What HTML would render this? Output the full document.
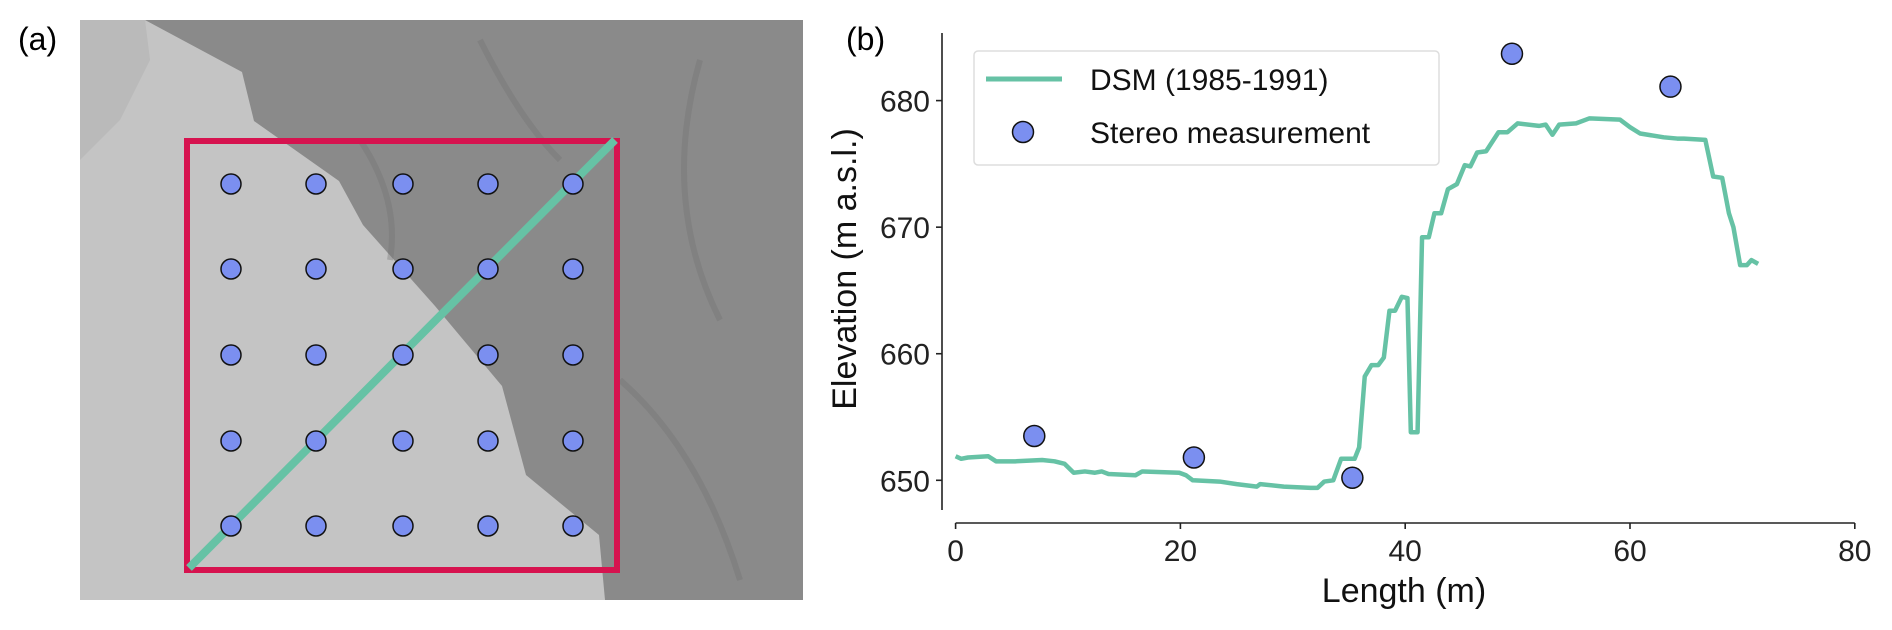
<!DOCTYPE html>
<html><head><meta charset="utf-8"><style>
html,body{margin:0;padding:0;background:#fff}
svg{display:block;font-family:"Liberation Sans",Arial,sans-serif}
</style></head><body>
<svg width="1892" height="630" viewBox="0 0 1892 630">
<g>
<text x="18" y="50" font-size="32">(a)</text>
<rect x="80" y="20" width="723" height="580" fill="#8a8a8a"/>
<polygon points="80,20 145,20 242,72 254,121 339,181 363,225 435,306 502,386 526,475 599,535 605,600 80,600" fill="#c4c4c4"/>
<polygon points="80,20 145,20 150,60 120,120 80,160" fill="#b0b0b0" opacity="0.5"/>
<path d="M480,40 Q520,120 560,160 M700,60 Q660,200 720,320 M620,380 Q700,450 740,580 M360,140 Q400,200 390,260" stroke="#707070" stroke-width="6" fill="none" opacity="0.35"/>
<rect x="187" y="141" width="430" height="429" fill="none" stroke="#d6134f" stroke-width="6"/>
<line x1="189" y1="568" x2="615" y2="140" stroke="#66c2a5" stroke-width="8"/>
<g id="grid"></g>
</g>
<g id="chart">
<text x="846" y="50" font-size="32">(b)</text>
</g>
</svg>
<script>
const gridXs=[231,316,403,488,573];
const gridYs=[184,269,355,441,526];
const NS='http://www.w3.org/2000/svg';
const gg=document.getElementById('grid');
gridYs.forEach(y=>gridXs.forEach(x=>{
 const c=document.createElementNS(NS,'circle');
 c.setAttribute('cx',x);c.setAttribute('cy',y);c.setAttribute('r',10);
 c.setAttribute('fill','#7b8ff0');c.setAttribute('stroke','#111');c.setAttribute('stroke-width','1.5');
 
 
 gg.appendChild(c);
}));

const dsmLength=[0,0.5,1.1,2.9,3.6,5.3,7.7,8.8,9.7,10.5,11.5,12.4,13,13.6,16,16.6,19.9,20.5,21.1,23.5,25,26.8,27.1,29.2,31.6,32.2,32.8,33.6,34.3,35.5,35.9,36.4,37,37.6,38.1,38.6,39.1,39.7,40.2,40.5,41.1,41.5,42.1,42.6,43.2,43.8,44.6,45.3,45.8,46.4,47.2,48.3,49.1,50,51.9,52.5,53.1,53.7,55.2,56.4,59.1,60,60.9,63,64.2,64.8,66.7,67.4,68.2,68.8,69.2,69.8,70.4,70.8,71.4];
const dsmElev=[651.9,651.7,651.8,651.9,651.5,651.5,651.6,651.5,651.3,650.6,650.7,650.6,650.7,650.5,650.4,650.7,650.6,650.4,650.0,649.9,649.7,649.5,649.7,649.5,649.4,649.4,649.9,650.0,651.7,651.7,652.6,658.2,659.1,659.1,659.7,663.4,663.4,664.5,664.4,653.8,653.8,669.2,669.2,671.1,671.1,673.0,673.4,674.9,674.8,675.9,676.0,677.5,677.5,678.2,678.0,678.1,677.3,678.1,678.2,678.6,678.5,677.9,677.4,677.1,677.0,677.0,676.9,674.0,673.9,671.1,670.0,667.0,667.0,667.4,667.1];
const stereoLength=[7,21.2,35.3,49.5,63.6];
const stereoElev=[653.5,651.8,650.2,683.7,681.1];
const xTicks=[0,20,40,60,80];
const yTicks=[650,660,670,680];

const X0=955.6,X1=1854.8,XMIN=0,XMAX=80;
const Y650=480.3,Y680=100.6;
const sx=v=>X0+(v-XMIN)/(XMAX-XMIN)*(X1-X0);
const sy=v=>Y650+(v-650)/30*(Y680-Y650);
const ch=document.getElementById('chart');
function el(tag,attrs,name,text){
 const e=document.createElementNS(NS,tag);
 for(const k in attrs)e.setAttribute(k,attrs[k]);
 if(text!==undefined)e.textContent=text;
 
 
 ch.appendChild(e);return e;
}
el('line',{x1:942,y1:33,x2:942,y2:510,stroke:'#222','stroke-width':1.6},'y-axis-spine');
el('line',{x1:X0,y1:523,x2:X1,y2:523,stroke:'#222','stroke-width':1.6},'x-axis-spine');
yTicks.forEach(t=>{
 el('line',{x1:936,x2:942,y1:sy(t),y2:sy(t),stroke:'#222','stroke-width':1.6},'y-tick');
 el('text',{x:930,y:sy(t)+11,'font-size':30,'text-anchor':'end',fill:'#222'},'y-tick-label',String(t));
});
xTicks.forEach(t=>{
 el('line',{x1:sx(t),x2:sx(t),y1:523,y2:529,stroke:'#222','stroke-width':1.6},'x-tick');
 el('text',{x:sx(t),y:561,'font-size':30,'text-anchor':'middle',fill:'#222'},'x-tick-label',String(t));
});
el('text',{x:1404,y:602,'font-size':34,'text-anchor':'middle',fill:'#111'},'x-axis-title','Length (m)');
el('text',{x:0,y:0,'font-size':34,'text-anchor':'middle',fill:'#111',transform:'translate(856,269) rotate(-90)'},'y-axis-title','Elevation (m a.s.l.)');
el('polyline',{points:dsmLength.map((v,i)=>sx(v)+','+sy(dsmElev[i])).join(' '),fill:'none',stroke:'#66c2a5','stroke-width':4.5,'stroke-linejoin':'round'},'dsm-line');
stereoLength.forEach((v,i)=>{
 el('circle',{cx:sx(v),cy:sy(stereoElev[i]),r:10.5,fill:'#7b8ff0',stroke:'#111','stroke-width':1.5},'stereo-point');
});
el('rect',{x:974,y:51,width:465,height:114,rx:4,fill:'#fff','fill-opacity':0.85,stroke:'#ddd','stroke-width':1.5},'legend-box');
el('line',{x1:986,x2:1062,y1:79,y2:79,stroke:'#66c2a5','stroke-width':5},'legend-dsm-swatch');
el('text',{x:1090,y:90,'font-size':30,fill:'#111'},'legend-dsm-label','DSM (1985-1991)');
el('circle',{cx:1023,cy:132,r:10.5,fill:'#7b8ff0',stroke:'#111','stroke-width':1.5},'legend-stereo-swatch');
el('text',{x:1090,y:143,'font-size':30,fill:'#111'},'legend-stereo-label','Stereo measurement');
</script>
</body></html>
